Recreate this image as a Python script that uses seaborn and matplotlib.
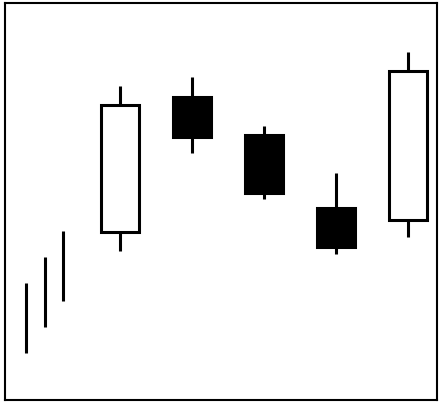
import numpy as np
import pandas as pd
import matplotlib
matplotlib.use("Agg")
import matplotlib.pyplot as plt
import seaborn as sns

# candle data (price units)
days = [1, 2, 3, 4, 5]
opens = [42.0, 75.75, 66.25, 48.0, 45.0]
closes = [73.75, 65.75, 51.75, 38.25, 82.25]
highs = [78.5, 80.75, 68.5, 56.75, 87.0]
lows = [37.25, 61.75, 50.25, 36.5, 40.75]

# earlier trend, drawn as plain range lines
trend_x = [-0.3, -0.04, 0.21]
trend_high = [29.25, 35.75, 42.25]
trend_low = [11.75, 18.25, 24.75]

candles = pd.DataFrame({'day': days, 'open': opens, 'close': closes,
                        'high': highs, 'low': lows})
candles['up'] = candles['close'] > candles['open']

sns.set_theme(style="white")

fig = plt.figure(figsize=(4.4, 4.04), dpi=100)
ax = fig.add_axes([5 / 440, 4 / 404, 432 / 440, 397 / 404])

# trend lines
ax.vlines(trend_x, trend_low, trend_high, color='black', linewidth=2.2)

# wicks
ax.vlines(candles['day'], candles['low'], candles['high'], color='black',
          linewidth=2.2, zorder=1)

# bodies
bottoms = candles[['open', 'close']].min(axis=1)
heights = (candles['close'] - candles['open']).abs()
fills = ['white' if u else 'black' for u in candles['up']]
ax.bar(candles['day'], heights, bottom=bottoms, width=0.52, color=fills,
       edgecolor='black', linewidth=2.2, zorder=2)

ax.set_xlim(-0.593, 5.40)
ax.set_ylim(0, 99.25)
ax.set_xticks([])
ax.set_yticks([])
for s in ax.spines.values():
    s.set_color('black')
    s.set_linewidth(1.5)

fig.savefig('out.png', dpi=100, facecolor='white')
